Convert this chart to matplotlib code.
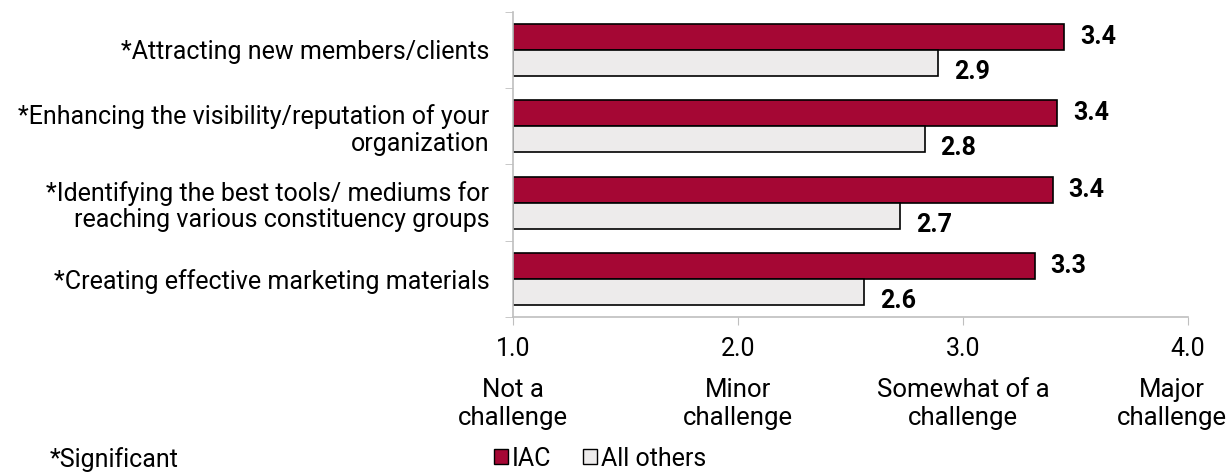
import matplotlib.pyplot as plt
import numpy as np
from matplotlib.patches import Patch

plt.rcParams['font.family'] = ['Roboto', 'DejaVu Sans']

categories = ["*Attracting new members/clients",
              "*Enhancing the visibility/reputation of your\norganization",
              "*Identifying the best tools/ mediums for\nreaching various constituency groups",
              "*Creating effective marketing materials"]
iac = [3.45, 3.42, 3.40, 3.32]
others = [2.89, 2.83, 2.72, 2.56]
iac_labels = ["3.4", "3.4", "3.4", "3.3"]
others_labels = ["2.9", "2.8", "2.7", "2.6"]
x_ticks = [1.0, 2.0, 3.0, 4.0]
x_names = ["Not a\nchallenge", "Minor\nchallenge", "Somewhat of a\nchallenge", "Major\nchallenge"]

red = '#A50734'
grey = '#EDEBEB'

fig = plt.figure(figsize=(12.31, 4.72), dpi=100)
ax = fig.add_axes([0.4167, 0.328, 0.5483, 0.647])

n = len(categories)
y = np.arange(n)
h = 0.34
ax.barh(y - h / 2, np.array(iac) - 1, left=1, height=h, color=red, edgecolor='black', linewidth=1.2)
ax.barh(y + h / 2, np.array(others) - 1, left=1, height=h, color=grey, edgecolor='black', linewidth=1.2)

for i in range(n):
    ax.text(iac[i] + 0.07, y[i] - h / 2, iac_labels[i], va='center', ha='left',
            fontsize=18, fontweight='bold')
    ax.text(others[i] + 0.07, y[i] + h / 2 + 0.12, others_labels[i], va='center', ha='left',
            fontsize=18, fontweight='bold')

ax.set_xlim(1, 4)
ax.set_ylim(n - 0.5, -0.5)
ax.set_xticks(x_ticks)
ax.set_xticklabels([f"{v:.1f}" for v in x_ticks], fontsize=18)
ax.tick_params(axis='x', length=6, color='#BFBFBF', pad=8)

ax.set_yticks(y)
ax.set_yticklabels(categories, fontsize=18, linespacing=1.15)
ax.tick_params(axis='y', length=0, pad=17)
ax.set_yticks(np.arange(n + 1) - 0.5, minor=True)
ax.tick_params(axis='y', which='minor', length=6, color='#BFBFBF')
for lab in ax.get_yticklabels():
    lab.set_ha('right')

for s in ['top', 'right']:
    ax.spines[s].set_visible(False)
for s in ['left', 'bottom']:
    ax.spines[s].set_color('#BFBFBF')
    ax.spines[s].set_linewidth(1.2)

# the last name sits a little left so it fits inside the figure
name_pos = [1.0, 2.0, 3.0, 3.93]
for xv, name in zip(name_pos, x_names):
    ax.text(xv, -0.2, name, transform=ax.get_xaxis_transform(), ha='center', va='top',
            fontsize=18.5, linespacing=1.2)

fig.text(0.04, 0.0, "*Significant", fontsize=18, va='bottom')
handles = [Patch(facecolor=red, edgecolor='black', label='IAC'),
           Patch(facecolor=grey, edgecolor='black', label='All others')]
fig.legend(handles=handles, loc='lower left', bbox_to_anchor=(0.383, -0.045), ncol=2, frameon=False,
           fontsize=18, handlelength=0.55, handleheight=0.55, handletextpad=0.15, columnspacing=1.3)

fig.savefig("out.png", dpi=100)
